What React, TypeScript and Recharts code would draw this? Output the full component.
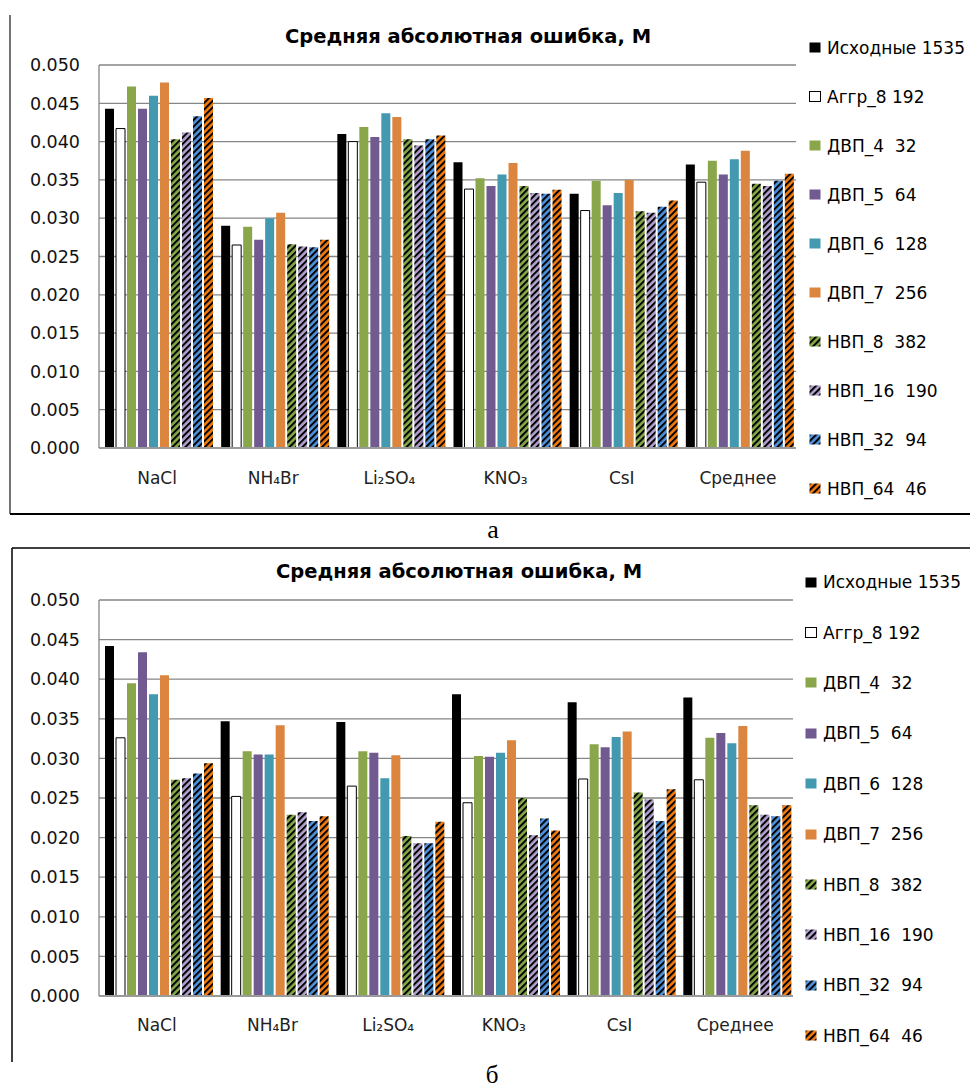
import React from 'react';
import { BarChart, Bar, XAxis, YAxis, CartesianGrid, Legend } from 'recharts';

const categories = ['NaCl', 'NH₄Br', 'Li₂SO₄', 'KNO₃', 'CsI', 'Среднее'];
const seriesNames = ['Исходные 1535', 'Аггр_8 192', 'ДВП_4  32', 'ДВП_5  64', 'ДВП_6  128', 'ДВП_7  256', 'НВП_8  382', 'НВП_16  190', 'НВП_32  94', 'НВП_64  46'];
const seriesColors = ['#000000', '#ffffff', '#8AA64B', '#715A90', '#4299B0', '#DC853F', '#86AA48', '#B3A2CF', '#4F93DE', '#F57C0E'];
const seriesHatched = [false, false, false, false, false, false, true, true, true, true];
const yTicks = [0, 0.005, 0.01, 0.015, 0.02, 0.025, 0.03, 0.035, 0.04, 0.045, 0.05];

// Chart "а"
const aIsx = [0.0443, 0.0290, 0.0410, 0.0373, 0.0332, 0.0370];
const aAggr = [0.0417, 0.0265, 0.0400, 0.0338, 0.0310, 0.0347];
const aDvp4 = [0.0472, 0.0289, 0.0419, 0.0352, 0.0349, 0.0375];
const aDvp5 = [0.0443, 0.0272, 0.0406, 0.0342, 0.0317, 0.0357];
const aDvp6 = [0.0460, 0.0300, 0.0437, 0.0357, 0.0333, 0.0377];
const aDvp7 = [0.0477, 0.0307, 0.0432, 0.0372, 0.0350, 0.0388];
const aNvp8 = [0.0403, 0.0266, 0.0403, 0.0342, 0.0309, 0.0345];
const aNvp16 = [0.0412, 0.0263, 0.0395, 0.0333, 0.0307, 0.0342];
const aNvp32 = [0.0433, 0.0262, 0.0403, 0.0332, 0.0315, 0.0349];
const aNvp64 = [0.0457, 0.0272, 0.0408, 0.0337, 0.0323, 0.0358];

// Chart "б"
const bIsx = [0.0442, 0.0347, 0.0346, 0.0381, 0.0371, 0.0377];
const bAggr = [0.0326, 0.0252, 0.0265, 0.0244, 0.0274, 0.0273];
const bDvp4 = [0.0395, 0.0309, 0.0309, 0.0303, 0.0318, 0.0326];
const bDvp5 = [0.0434, 0.0305, 0.0307, 0.0302, 0.0314, 0.0332];
const bDvp6 = [0.0381, 0.0305, 0.0275, 0.0307, 0.0327, 0.0319];
const bDvp7 = [0.0405, 0.0342, 0.0304, 0.0323, 0.0334, 0.0341];
const bNvp8 = [0.0273, 0.0229, 0.0202, 0.0250, 0.0257, 0.0241];
const bNvp16 = [0.0275, 0.0232, 0.0193, 0.0203, 0.0248, 0.0229];
const bNvp32 = [0.0281, 0.0221, 0.0193, 0.0224, 0.0221, 0.0227];
const bNvp64 = [0.0294, 0.0227, 0.0220, 0.0209, 0.0261, 0.0241];

const title = 'Средняя абсолютная ошибка, М';
const FONT = '"DejaVu Sans", sans-serif';

const seriesA = [aIsx, aAggr, aDvp4, aDvp5, aDvp6, aDvp7, aNvp8, aNvp16, aNvp32, aNvp64];
const seriesB = [bIsx, bAggr, bDvp4, bDvp5, bDvp6, bDvp7, bNvp8, bNvp16, bNvp32, bNvp64];
const keys = seriesNames.map((_, k) => 's' + k);

function buildData(series: number[][]) {
  return categories.map((c, i) => {
    const row: any = { cat: c };
    series.forEach((arr, k) => { row[keys[k]] = arr[i]; });
    return row;
  });
}
const dataA = buildData(seriesA);
const dataB = buildData(seriesB);

const fillFor = (k: number) => (seriesHatched[k] ? `url(#hatch-${k})` : seriesColors[k]);

function LegendBox({ itemH, textGap }: { itemH: number; textGap: number }) {
  return (
    <div style={{ fontFamily: FONT, fontSize: 17, color: '#000' }}>
      {seriesNames.map((n, k) => (
        <div key={k} style={{ height: itemH, display: 'flex', alignItems: 'center', whiteSpace: 'pre' }}>
          <svg width={12} height={11} style={{ marginRight: textGap, flex: 'none' }}>
            <rect x={0.5} y={0.5} width={11} height={10} fill={fillFor(k)} stroke={k === 1 ? '#000' : 'none'} strokeWidth={1} />
          </svg>
          <span>{n}</span>
        </div>
      ))}
    </div>
  );
}

function Panel(props: {
  top: number; height: number; data: any[]; margin: any; legendLeft: number; legendTop: number; itemH: number; textGap: number; xMargin: number;
}) {
  const { top, height, data, margin, legendLeft, legendTop, itemH, textGap, xMargin } = props;
  return (
    <div style={{ position: 'absolute', left: 0, top }}>
      <BarChart width={970} height={height} data={data} margin={margin} barCategoryGap={6} barGap={2}>
        <CartesianGrid vertical={false} stroke="#868686" strokeWidth={1.3} />
        <XAxis
          dataKey="cat"
          height={40}
          tickLine={false}
          tickSize={0}
          tickMargin={xMargin}
          axisLine={{ stroke: '#9a9a9a', strokeWidth: 2 }}
          tick={{ fontFamily: FONT, fontSize: 17, fill: '#222' }}
        />
        <YAxis
          width={89}
          domain={[0, 0.05]}
          ticks={yTicks}
          interval={0}
          tickLine={false}
          tickSize={0}
          tickMargin={19}
          axisLine={{ stroke: '#868686', strokeWidth: 1.3 }}
          tickFormatter={(v: number) => v.toFixed(3)}
          tick={{ fontFamily: FONT, fontSize: 17.5, fill: '#111' }}
        />
        <Legend
          layout="vertical"
          align="center"
          verticalAlign="middle"
          wrapperStyle={{ left: legendLeft, top: legendTop, width: 170, right: 'auto', bottom: 'auto' }}
          content={() => <LegendBox itemH={itemH} textGap={textGap} />}
        />
        {keys.map((key, k) => (
          <Bar
            key={key}
            dataKey={key}
            name={seriesNames[k]}
            fill={fillFor(k)}
            stroke={k === 1 ? '#000' : 'none'}
            strokeWidth={k === 1 ? 1 : 0}
            isAnimationActive={false}
          />
        ))}
      </BarChart>
    </div>
  );
}

export default function App() {
  return (
    <div style={{ position: 'absolute', left: 0, top: 0, width: 970, height: 1091, background: '#fff' }}>
      <svg width={0} height={0} style={{ position: 'absolute' }}>
        <defs>
          {seriesColors.map((c, k) =>
            seriesHatched[k] ? (
              <pattern key={k} id={`hatch-${k}`} patternUnits="userSpaceOnUse" width={4.6} height={4.6} patternTransform="rotate(45)">
                <rect x={0} y={0} width={4.6} height={4.6} fill={c} />
                <rect x={0} y={0} width={2} height={4.6} fill="#000" />
              </pattern>
            ) : null
          )}
        </defs>
      </svg>
      <svg width={970} height={1091} style={{ position: 'absolute', left: 0, top: 0 }}>
        <line x1={10} y1={15} x2={10} y2={514} stroke="#444" strokeWidth={1.5} />
        <line x1={10} y1={514} x2={970} y2={514} stroke="#000" strokeWidth={2} />
        <line x1={12} y1={548} x2={970} y2={548} stroke="#000" strokeWidth={1.5} />
        <line x1={12} y1={548} x2={12} y2={1062} stroke="#000" strokeWidth={1.5} />
        <text x={468} y={43} textAnchor="middle" fontFamily={FONT} fontWeight="bold" fontSize={19.5} fill="#000">{title}</text>
        <text x={459} y={578} textAnchor="middle" fontFamily={FONT} fontWeight="bold" fontSize={19.5} fill="#000">{title}</text>
        <text x={493} y={538} textAnchor="middle" fontFamily='"Liberation Serif", serif' fontSize={26} fill="#000">а</text>
        <text x={492} y={1083} textAnchor="middle" fontFamily='"Liberation Serif", serif' fontSize={25} fill="#000">б</text>
      </svg>
      <Panel top={0} height={515} data={dataA} margin={{ top: 65, right: 174, bottom: 27, left: 10 }}
        legendLeft={809} legendTop={23} itemH={49} textGap={6} xMargin={24} />
      <Panel top={545} height={546} data={dataB} margin={{ top: 55, right: 177, bottom: 55, left: 10 }}
        legendLeft={805} legendTop={12} itemH={50.4} textGap={6} xMargin={23} />
    </div>
  );
}
